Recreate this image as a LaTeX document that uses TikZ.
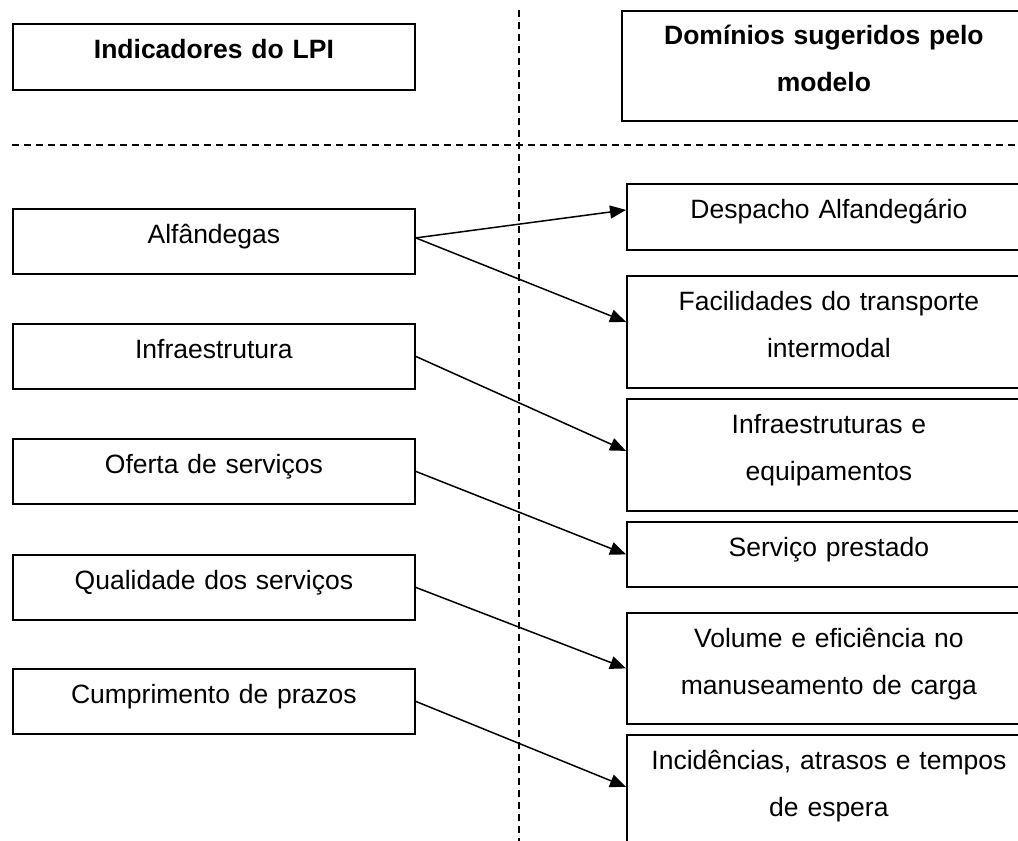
\documentclass[tikz,border=0pt]{standalone}
\usepackage{fontspec}
\setmainfont{Liberation Sans}
\usetikzlibrary{arrows.meta}

\begin{document}
\begin{tikzpicture}[x=0.5pt,y=-0.5pt,
    font={\fontsize{13.25pt}{23.5pt}\selectfont},
    ibox/.style={draw,line width=0.9pt,anchor=north west,inner sep=0pt,
      text width=201pt,align=center,text height=17.25pt,text depth=#1},
    dbox/.style={ibox=#1,text width=202pt},
    seta/.style={-{Triangle[length=8pt,width=6.5pt]},line width=0.75pt},
    sep/.style={line width=0.75pt,dash pattern=on 3.5pt off 2.5pt}]
  \useasboundingbox (0,0) rectangle (1018,841);
  \clip (0,0) rectangle (1018,841);

  %separators
  \draw[sep] (519,10) -- (519,841);
  \draw[sep] (12,145) -- (1018,145);

  %headers
  \node[ibox=15.5pt,text height=17.5pt] (hlpi) at (12,23) {\textbf{Indicadores do LPI}};
  \node[dbox=38pt,text height=17pt] (hdom) at (621,10) {\textbf{Domínios sugeridos pelo}\\ \textbf{modelo}};

  %indicadores
  \node[ibox=15.25pt] (alf) at (12,208) {Alfândegas};
  \node[ibox=15.25pt] (infra) at (12,323) {Infraestrutura};
  \node[ibox=15.25pt] (ofe) at (12,438) {Oferta de serviços};
  \node[ibox=15.25pt] (qual) at (12,554) {Qualidade dos serviços};
  \node[ibox=15.25pt] (cump) at (12,668) {Cumprimento de prazos};

  %dominios
  \node[dbox=15.75pt] (desp) at (626,183) {Despacho Alfandegário};
  \node[dbox=38.75pt] (facil) at (626,275) {Facilidades do transporte\\ intermodal};
  \node[dbox=38.75pt] (infeq) at (626,398) {Infraestruturas e\\ equipamentos};
  \node[dbox=15.25pt] (serv) at (626,521) {Serviço prestado};
  \node[dbox=38.25pt] (vol) at (626,612) {Volume e eficiência no\\ manuseamento de carga};
  \node[dbox=42.75pt] (incid) at (626,734) {Incidências, atrasos e tempos\\ de espera};

  %ligacoes
  \draw[seta] ([yshift=1.75pt]alf.east) -- ([yshift=3.5pt]desp.west);
  \draw[seta] ([yshift=1.75pt]alf.east) -- ([yshift=5pt]facil.west);
  \draw[seta] (infra.east) -- ([yshift=2pt]infeq.west);
  \draw[seta] (ofe.east) -- (serv.west);
  \draw[seta] (qual.east) -- (vol.west);
  \draw[seta] (cump.east) -- ([yshift=4pt]incid.west);
\end{tikzpicture}
\end{document}
